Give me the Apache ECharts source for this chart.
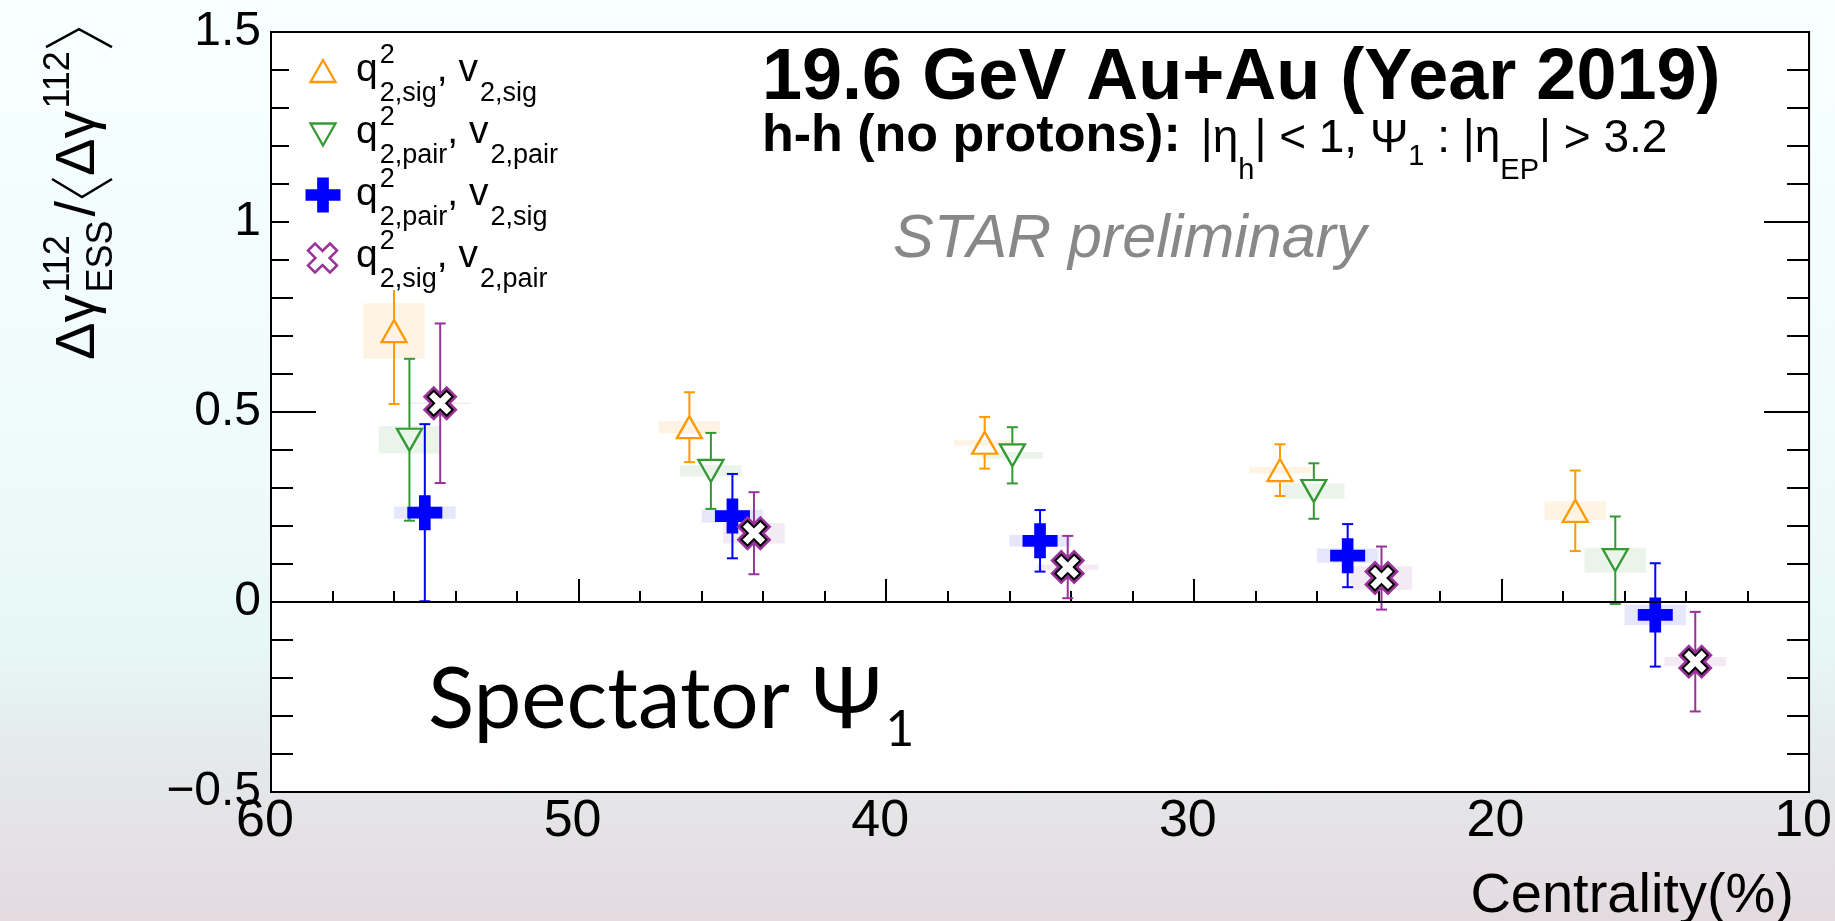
<!DOCTYPE html>
<html><head><meta charset="utf-8">
<script src="https://cdn.jsdelivr.net/npm/echarts@6.0.0/dist/echarts.min.js"></script>
<style>
html,body{margin:0;padding:0;width:1835px;height:921px;overflow:hidden;}
#chart{width:1835px;height:921px;
background:
 linear-gradient(to bottom, rgba(228,214,220,0) 70%, rgba(228,214,220,0.8) 100%),
 linear-gradient(to bottom, #f8ffff 0%, #f0fbfb 45%, #e6f7f6 72%, #e4eded 100%);}
</style></head>
<body><div id="chart"></div>
<script>
// ---------------- data ----------------
const centralityBins = ['50-60%', '40-50%', '30-40%', '20-30%', '10-20%'];
const xTickValues = [60, 50, 40, 30, 20, 10];
const xTickLabels = ['60', '50', '40', '30', '20', '10'];
const yTickValues = [-0.5, 0, 0.5, 1, 1.5];
const yTickLabels = ['\u22120.5', '0', '0.5', '1', '1.5'];

// q2_sig, v2_sig (orange)
const xSigSig    = [56.0, 46.4, 36.8, 27.2, 17.6];
const ySigSig    = [0.713, 0.460, 0.419, 0.347, 0.240];
const statSigSig = [0.192, 0.092, 0.068, 0.068, 0.106];
const sysSigSig  = [0.073, 0.016, 0.008, 0.009, 0.025];
// q2_pair, v2_pair (green)
const xPairPair    = [55.5, 45.7, 35.9, 26.1, 16.3];
const yPairPair    = [0.427, 0.345, 0.386, 0.292, 0.110];
const statPairPair = [0.213, 0.100, 0.074, 0.073, 0.115];
const sysPairPair  = [0.036, 0.015, 0.009, 0.020, 0.033];
// q2_pair, v2_sig (blue)
const xPairSig    = [55.0, 45.0, 35.0, 25.0, 15.0];
const yPairSig    = [0.235, 0.226, 0.161, 0.122, -0.034];
const statPairSig = [0.233, 0.111, 0.081, 0.083, 0.136];
const sysPairSig  = [0.016, 0.017, 0.015, 0.019, 0.027];
// q2_sig, v2_pair (purple)
const xSigPair    = [54.5, 44.3, 34.1, 23.9, 13.7];
const ySigPair    = [0.523, 0.181, 0.092, 0.063, -0.157];
const statSigPair = [0.210, 0.108, 0.082, 0.083, 0.131];
const sysSigPair  = [0.002, 0.027, 0.007, 0.031, 0.012];
const sysHalfWidth = 1.0; // half width of systematic boxes (centrality %)

// ---------------- helpers ----------------
const mc = document.createElement('canvas').getContext('2d');
const LIB = '"Liberation Sans", Arial, sans-serif';
function F(size, o) { o = o || {}; return (o.italic ? 'italic ' : '') + (o.bold ? 'bold ' : '') + size + 'px ' + (o.family || LIB); }
function W(text, font) { mc.font = font; return mc.measureText(text).width; }
function MID(font) { mc.font = font; const m = mc.measureText('Hg'); return (m.fontBoundingBoxAscent - m.fontBoundingBoxDescent) / 2; }
function T(x, base, text, font, fill, align, z) {
  return { type: 'text', x: x, y: base - MID(font), z: z || 60, silent: true,
    style: { text: text, font: font, fill: fill || '#000', align: align || 'left', verticalAlign: 'middle' } };
}
function flow(segs, x0, base, z) {
  const out = []; let x = x0;
  for (const s of segs) {
    if (s.gap) x += s.gap;
    if (s.t !== undefined) {
      out.push(T(x, base + (s.dy || 0), s.t, s.font, s.fill, 'left', z)); x += W(s.t, s.font);
    } else if (s.sup !== undefined || s.sub !== undefined) {
      let w = 0;
      if (s.sup) { out.push(T(x, base - s.raise, s.sup, s.font, s.fill, 'left', z)); w = Math.max(w, W(s.sup, s.font)); }
      if (s.sub) { out.push(T(x, base + s.drop, s.sub, s.font, s.fill, 'left', z)); w = Math.max(w, W(s.sub, s.font)); }
      x += w;
    } else if (s.br) {
      const mid = base + (s.top + s.bot) / 2;
      const pts = s.br === '<'
        ? [[x + s.w, base + s.top], [x, mid], [x + s.w, base + s.bot]]
        : [[x, base + s.top], [x + s.w, mid], [x, base + s.bot]];
      out.push({ type: 'polyline', z: z || 60, silent: true, shape: { points: pts }, style: { stroke: '#000', lineWidth: s.lw || 2.5, fill: null } });
      x += s.w;
    }
  }
  return out;
}
function crossPts(cx, cy, size, t) {
  const h = size / 2, a = size * t / 2;
  return [[-a,-h],[a,-h],[a,-a],[h,-a],[h,a],[a,a],[a,h],[-a,h],[-a,a],[-h,a],[-h,-a],[-a,-a]].map(p => [cx + p[0], cy + p[1]]);
}
function xPts(cx, cy, size, r) {
  const L = size / (Math.SQRT2 * (1 + r)), w = r * L;
  const plus = [[-w,-L],[w,-L],[w,-w],[L,-w],[L,w],[w,w],[w,L],[-w,L],[-w,w],[-L,w],[-L,-w],[-w,-w]];
  return plus.map(p => [cx + (p[0] - p[1]) / Math.SQRT2, cy + (p[0] + p[1]) / Math.SQRT2]);
}
function pathOf(pts) { return 'path://' + pts.map((p, i) => (i ? 'L' : 'M') + p[0].toFixed(2) + ',' + p[1].toFixed(2)).join(' ') + ' Z'; }

const SYM_UP = pathOf([[13, 0], [26, 24], [0, 24]]);
const SYM_DOWN = pathOf([[0, 0], [26, 0], [13, 24]]);
const SYM_CROSS = pathOf(crossPts(50, 50, 100, 1 / 3));
const SYM_X = pathOf(xPts(50, 50, 100, 0.32));

function rows(xs, ys, st, sy) { return xs.map((x, i) => [x, ys[i], st[i], sy[i]]); }

const groups = [
  { rows: rows(xSigSig, ySigSig, statSigSig, sysSigSig), color: '#ff9900', box: '#fff4e4', gap: 12 },
  { rows: rows(xPairPair, yPairPair, statPairPair, sysPairPair), color: '#339933', box: '#eaf4ea', gap: 12 },
  { rows: rows(xPairSig, yPairSig, statPairSig, sysPairSig), color: '#0000ff', box: '#e6e6fd', gap: 0 },
  { rows: rows(xSigPair, ySigPair, statSigPair, sysSigPair), color: '#993399', box: '#f4eaf4', gap: 0 }
];

function boxRender(fill) {
  return function (params, api) {
    const x = api.value(0), y = api.value(1), s = api.value(3);
    const p1 = api.coord([x - sysHalfWidth, y + s]), p2 = api.coord([x + sysHalfWidth, y - s]);
    const xa = Math.min(p1[0], p2[0]), xb = Math.max(p1[0], p2[0]);
    let ya = Math.min(p1[1], p2[1]), yb = Math.max(p1[1], p2[1]);
    if (yb - ya < 1.5) { const m = (ya + yb) / 2; ya = m - 0.75; yb = m + 0.75; }
    return { type: 'rect', shape: { x: xa, y: ya, width: xb - xa, height: yb - ya }, style: { fill: fill } };
  };
}
function errRender(color, gap) {
  return function (params, api) {
    const x = api.value(0), y = api.value(1), e = api.value(2);
    const c = api.coord([x, y]), t = api.coord([x, y + e]), b = api.coord([x, y - e]);
    const st = { stroke: color, lineWidth: 2 };
    const ch = [];
    if (c[1] - gap > t[1]) ch.push({ type: 'line', shape: { x1: c[0], y1: t[1], x2: c[0], y2: c[1] - gap }, style: st });
    if (c[1] + gap < b[1]) ch.push({ type: 'line', shape: { x1: c[0], y1: c[1] + gap, x2: c[0], y2: b[1] }, style: st });
    ch.push({ type: 'line', shape: { x1: c[0] - 5.5, y1: t[1], x2: c[0] + 5.5, y2: t[1] }, style: st });
    ch.push({ type: 'line', shape: { x1: c[0] - 5.5, y1: b[1], x2: c[0] + 5.5, y2: b[1] }, style: st });
    return { type: 'group', children: ch };
  };
}

const series = [];
groups.forEach((g, i) => {
  const s = { type: 'custom', data: g.rows, encode: { x: 0, y: 1 }, renderItem: boxRender(g.box), z: 1, silent: true };
  if (i === 0) s.markLine = { symbol: 'none', silent: true, label: { show: false }, lineStyle: { color: '#000', width: 2, type: 'solid' }, data: [{ yAxis: 0 }] };
  series.push(s);
});
groups.forEach(g => {
  series.push({ type: 'custom', data: g.rows, encode: { x: 0, y: 1 }, renderItem: errRender(g.color, g.gap), z: 2, silent: true });
});
const pts = g => g.rows.map(r => [r[0], r[1]]);
series.push({ type: 'scatter', data: pts(groups[0]), symbol: SYM_UP, symbolSize: [25, 22], z: 3, silent: true,
  itemStyle: { color: 'rgba(0,0,0,0)', borderColor: groups[0].color, borderWidth: 2.3, opacity: 1 } });
series.push({ type: 'scatter', data: pts(groups[1]), symbol: SYM_DOWN, symbolSize: [25, 22], z: 3, silent: true,
  itemStyle: { color: 'rgba(0,0,0,0)', borderColor: groups[1].color, borderWidth: 2.3, opacity: 1 } });
series.push({ type: 'scatter', data: pts(groups[2]), symbol: SYM_CROSS, symbolSize: 35, z: 3, silent: true,
  itemStyle: { color: groups[2].color, opacity: 1 } });
series.push({ type: 'scatter', data: pts(groups[3]), symbol: SYM_X, symbolSize: 25, z: 3, silent: true,
  itemStyle: { color: groups[3].color, borderColor: groups[3].color, borderWidth: 7, opacity: 1 } });
series.push({ type: 'scatter', data: pts(groups[3]), symbol: SYM_X, symbolSize: 25, z: 4, silent: true,
  itemStyle: { color: '#ffffff', borderColor: '#000000', borderWidth: 2, opacity: 1 } });

// ---------------- graphics (texts, legend) ----------------
const graphics = [];
// legend box (white, covers part of the plot)
graphics.push({ type: 'rect', z: 50, silent: true, shape: { x: 289, y: 34, width: 310, height: 256 }, style: { fill: '#ffffff' } });
graphics.push({ type: 'polygon', z: 60, silent: true, shape: { points: [[323, 60], [335.5, 82], [310.5, 82]] }, style: { fill: null, stroke: '#ff9900', lineWidth: 2.3 } });
graphics.push({ type: 'polygon', z: 60, silent: true, shape: { points: [[310.5, 123.5], [335.5, 123.5], [323, 145.5]] }, style: { fill: null, stroke: '#339933', lineWidth: 2.3 } });
graphics.push({ type: 'polygon', z: 60, silent: true, shape: { points: crossPts(323, 195, 35, 1 / 3) }, style: { fill: '#0000ff' } });
graphics.push({ type: 'polygon', z: 60, silent: true, shape: { points: xPts(322.5, 258, 29, 0.32) }, style: { fill: '#ffffff', stroke: '#993399', lineWidth: 2.5 } });
const LF = F(39), LS = F(27);
function legendText(s1, s2, base) {
  return flow([{ t: 'q', font: LF }, { gap: 2, sup: '2', sub: s1, font: LS, raise: 19, drop: 19 },
    { t: ', v', font: LF }, { gap: 2, sub: s2, font: LS, drop: 19 }], 356, base);
}
graphics.push(...legendText('2,sig', '2,sig', 84));
graphics.push(...legendText('2,pair', '2,pair', 146));
graphics.push(...legendText('2,pair', '2,sig', 208));
graphics.push(...legendText('2,sig', '2,pair', 270));

// titles
graphics.push(T(762, 104, '19.6 GeV Au+Au (Year 2019)', F(72, { bold: true })));
const N = F(46), S = F(29);
graphics.push(...flow([
  { t: 'h-h (no protons):', font: F(52, { bold: true }) },
  { gap: 20, t: '|\u03b7', font: N }, { sub: 'h', font: S, drop: 26 },
  { t: '| < 1, \u03a8', font: N }, { sub: '1', font: S, drop: 12 },
  { t: ' : |\u03b7', font: N }, { sub: 'EP', font: S, drop: 26 },
  { t: '| > 3.2', font: N }
], 762, 155));
graphics.push(T(893, 261, 'STAR preliminary', F(61, { italic: true }), '#888888'));

const SPF = 'Lato, "Open Sans", "Noto Sans", sans-serif';
const spSize = 88 * 362 / W('Spectator', '88px ' + SPF);
graphics.push(...flow([
  { t: 'Spectator \u03a8', font: spSize + 'px ' + SPF },
  { gap: 4, sub: '1', font: (spSize * 0.58) + 'px ' + SPF, drop: 16 }
], 428, 733));

graphics.push(T(1794, 916, 'Centrality(%)', F(56), '#000', 'right'));

// y-axis title (rotated)
const YF = F(56), YS = F(36);
graphics.push({ type: 'group', x: 98, y: 360, rotation: Math.PI / 2, silent: true, children: flow([
  { t: '\u0394\u03b3', font: YF },
  { gap: 2, sup: '112', sub: 'ESS', font: YS, raise: 26, drop: 17 },
  { gap: 4, t: '/', font: YF },
  { gap: 4, br: '<', w: 18, top: -46, bot: 14 },
  { gap: 3, t: '\u0394\u03b3', font: YF },
  { gap: 2, sup: '112', font: YS, raise: 26 },
  { gap: 4, br: '>', w: 18, top: -52, bot: 14 }
], 0, 0) });

// ---------------- chart ----------------
const chart = echarts.init(document.getElementById('chart'), null, { renderer: 'canvas' });
const axisCommon = {
  axisLine: { show: true, lineStyle: { color: '#000', width: 2 } },
  splitLine: { show: false }
};
chart.setOption({
  animation: false,
  backgroundColor: 'transparent',
  grid: { left: 271, right: 23, top: 32, bottom: 129, show: true, backgroundColor: '#ffffff', borderColor: '#000', borderWidth: 2 },
  xAxis: Object.assign({
    type: 'value', min: 10, max: 60, interval: 10, inverse: true,
    axisTick: { show: true, inside: true, length: 23, lineStyle: { color: '#000', width: 2 } },
    minorTick: { show: true, splitNumber: 5, length: 11, lineStyle: { color: '#000', width: 2 } },
    axisLabel: { show: true, fontSize: 52, fontFamily: LIB, color: '#000', margin: 4, padding: [0, 12, 0, 0],
      formatter: v => { const i = xTickValues.indexOf(Math.round(v)); return i >= 0 ? xTickLabels[i] : ''; } }
  }, axisCommon),
  yAxis: [
    Object.assign({
      type: 'value', min: -0.5, max: 1.5, interval: 0.5, position: 'left',
      axisTick: { show: true, inside: true, length: 45, lineStyle: { color: '#000', width: 2 } },
      minorTick: { show: true, splitNumber: 5, length: 22, lineStyle: { color: '#000', width: 2 } },
      axisLabel: { show: true, fontSize: 48, fontFamily: LIB, color: '#000', margin: 10,
        formatter: v => { const i = yTickValues.findIndex(t => Math.abs(t - v) < 1e-6); return i >= 0 ? yTickLabels[i] : ''; } }
    }, axisCommon),
    Object.assign({
      type: 'value', min: -0.5, max: 1.5, interval: 0.5, position: 'right',
      axisTick: { show: true, inside: true, length: 45, lineStyle: { color: '#000', width: 2 } },
      minorTick: { show: true, splitNumber: 5, length: 22, lineStyle: { color: '#000', width: 2 } },
      axisLabel: { show: false }
    }, axisCommon)
  ],
  series: series,
  graphic: { elements: graphics }
});
</script>
</body></html>
